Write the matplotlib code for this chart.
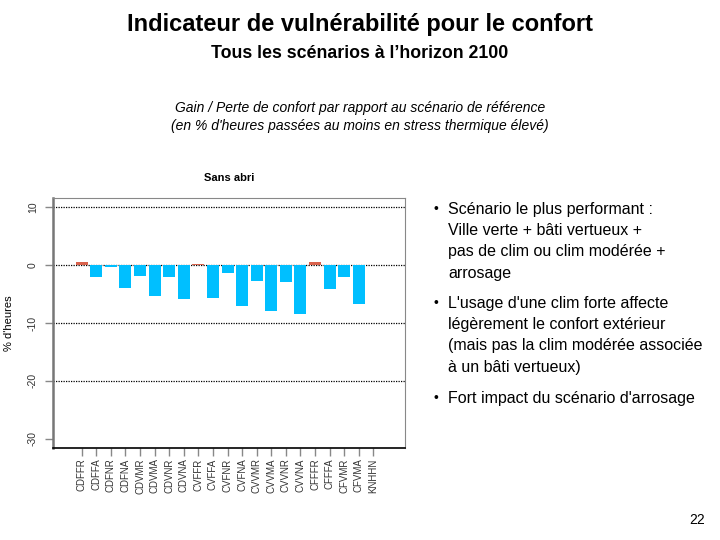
import numpy as np
import matplotlib.pyplot as plt

# scenario codes and comfort gain/loss (% of hours)
scenarios = ["CDFFR", "CDFFA", "CDFNR", "CDFNA", "CDVMR", "CDVMA", "CDVNR",
             "CDVNA", "CVFFR", "CVFFA", "CVFNR", "CVFNA", "CVVMR", "CVVMA",
             "CVVNR", "CVVNA", "CFFFR", "CFFFA", "CFVMR", "CFVMA", "KNHHN"]
gain = [0.6, -2.1, -0.4, -4.0, -1.8, -5.4, -2.1, -5.8, 0.2, -5.6, -1.3,
        -7.0, -2.7, -8.0, -3.0, -8.4, 0.6, -4.2, -2.1, -6.8, 0.0]
yticks = [10, 0, -10, -20, -30]
gridlines = [10, 0, -10, -20]

bullets = [
    "Scénario le plus performant :\nVille verte + bâti vertueux +\npas de clim ou clim modérée +\narrosage",
    "L'usage d'une clim forte affecte\nlégèrement le confort extérieur\n(mais pas la clim modérée associée\nà un bâti vertueux)",
    "Fort impact du scénario d'arrosage",
]

plt.rcParams['font.family'] = ['Liberation Sans', 'DejaVu Sans']

fig = plt.figure(figsize=(7.2, 5.4), dpi=100)

# slide titles
fig.text(0.5, 1 - 24 / 540, "Indicateur de vulnérabilité pour le confort",
         ha='center', va='center', fontsize=17, fontweight='bold')
fig.text(0.5, 1 - 54 / 540, "Tous les scénarios à l\u2019horizon 2100",
         ha='center', va='center', fontsize=12.8, fontweight='bold')
fig.text(0.5, 1 - 117 / 540,
         "Gain / Perte de confort par rapport au scénario de référence\n"
         "(en % d'heures passées au moins en stress thermique élevé)",
         ha='center', va='center', fontsize=10, style='italic', linespacing=1.3)

ax = fig.add_axes([53 / 720, 1 - 448 / 540, 352 / 720, 250 / 540])

x = np.arange(1, len(scenarios) + 1)
colors = ['#D9624C' if v > 0 else '#00BFFF' for v in gain]
ax.bar(x, gain, width=0.82, color=colors, zorder=2)
for g in gridlines:
    ax.axhline(g, color='black', linestyle=(0, (1, 1)), linewidth=0.9, zorder=1)

ax.set_xlim(-0.97, 23.17)
ax.set_ylim(-31.6, 11.6)
ax.set_yticks(yticks)
ax.set_yticklabels([str(t) for t in yticks], rotation=90, va='center',
                   fontsize=7.5, color='#333333')
ax.set_xticks(x)
ax.set_xticklabels(scenarios, rotation=90, fontsize=7, color='#333333')
ax.tick_params(axis='both', length=6, color='#888888', width=1)
ax.tick_params(axis='x', pad=1.5)
ax.tick_params(axis='y', pad=5)

ax.spines['left'].set_color('#777777')
ax.spines['left'].set_linewidth(1.8)
ax.spines['bottom'].set_color('black')
ax.spines['bottom'].set_linewidth(1.2)
ax.spines['top'].set_color('#888888')
ax.spines['right'].set_color('#888888')

ax.set_ylabel("% d'heures", fontsize=8, labelpad=10)
ax.set_title("Sans abri", fontsize=8, fontweight='bold', pad=12)

# bullet points on the right
ypos = [202, 296, 391]
for yp, txt in zip(ypos, bullets):
    fig.text(433 / 720, 1 - yp / 540, "\u2022", fontsize=10, va='top', ha='left')
    fig.text(448 / 720, 1 - yp / 540, txt, fontsize=11.55, va='top',
             ha='left', linespacing=1.52)

fig.text(697 / 720, 1 - 520 / 540, "22", fontsize=10, ha='center', va='center')

fig.savefig("out.png", dpi=100)
